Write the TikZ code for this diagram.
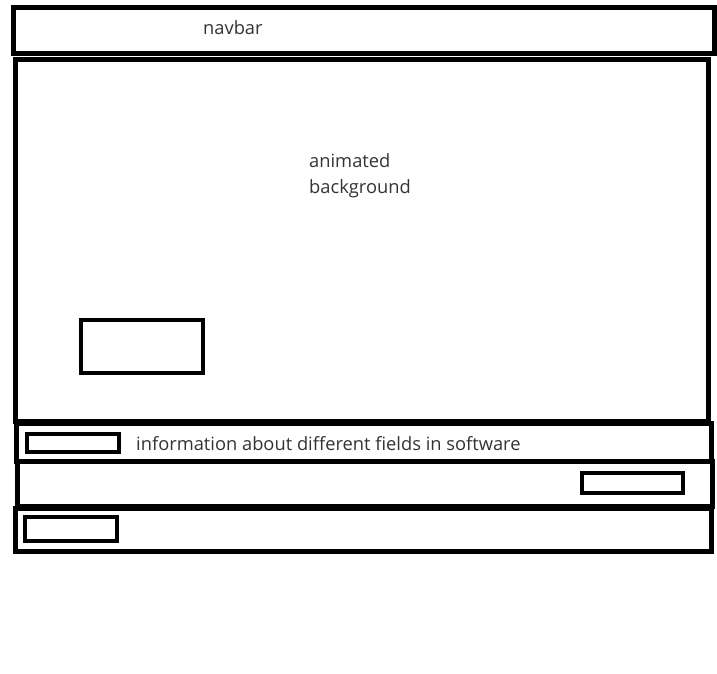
\documentclass[tikz,border=0pt]{standalone}
\usepackage{fontspec}
\setmainfont{Open Sans}
\begin{document}
\begin{tikzpicture}[x=1pt,y=-1pt,
  frame/.style={draw=black, line width=5pt, inner sep=0pt, outer sep=0pt, anchor=north west},
  smallbox/.style={draw=black, line width=4.5pt, inner sep=0pt, outer sep=0pt, anchor=north west},
  lbl/.style={anchor=base west, inner sep=0pt, font=\fontsize{18.3}{22}\selectfont, text=black!80}]
\useasboundingbox[fill=white] (0,0) rectangle (717,673);
\node[frame, minimum width=701.5pt, minimum height=45.5pt] (navbar) at (13,7.5) {};
\node[frame, minimum width=693pt, minimum height=361.5pt] (main) at (15.5,59.5) {};
\node[frame, minimum width=695pt, minimum height=38pt] (info) at (16,423) {};
\node[frame, minimum width=695pt, minimum height=45.5pt] (row3) at (17,461) {};
\node[frame, minimum width=696pt, minimum height=43pt] (row4) at (15,508) {};
\node[smallbox, minimum width=122pt, minimum height=53pt] (hero) at (81,320) {};
\node[smallbox, minimum width=92pt, minimum height=18pt] (infobox) at (27,434) {};
\node[smallbox, minimum width=101pt, minimum height=20pt] (row3box) at (582,473) {};
\node[smallbox, minimum width=92pt, minimum height=24pt] (row4box) at (25,517) {};
\node[lbl] (navtext) at (203,34.5) {navbar};
\node[lbl] (anim1) at (309,167) {animated};
\node[lbl] (anim2) at (309,193) {background};
\node[lbl] (infotext) at (136,450) {information about different fields in software};
\end{tikzpicture}
\end{document}
